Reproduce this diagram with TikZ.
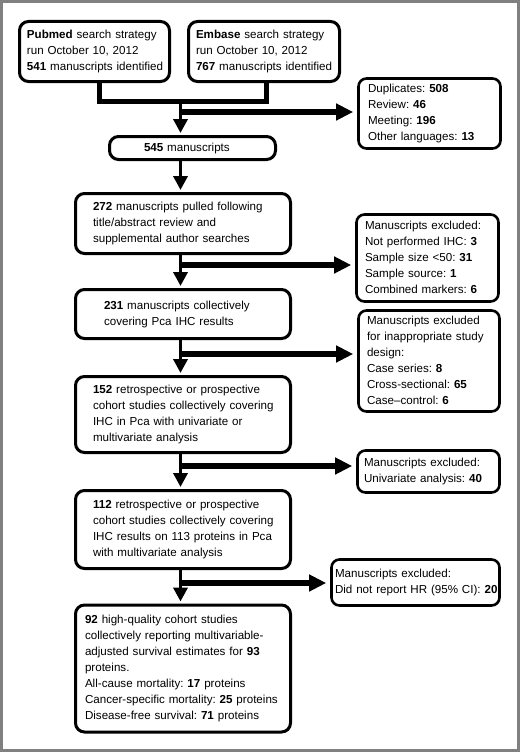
\documentclass[tikz,border=0pt]{standalone}
\usepackage{fontspec}
\setmainfont{Liberation Sans}
\usetikzlibrary{arrows.meta,calc}
\frenchspacing
\newcommand{\lns}[1]{\begin{tabular}{@{}l@{}}#1\end{tabular}}
\tikzset{
  box/.style={draw, line width=3pt, rounded corners=9pt, align=left,
    font=\fontsize{11.6}{16}\selectfont\frenchspacing, inner ysep=0pt},
  exbox/.style={box, line width=2.6pt, rounded corners=8pt},
  merge/.style={draw, line width=5pt},
  varrow/.style={draw, line width=3.5pt, -{Triangle[length=14pt,width=14pt]}, shorten >=2pt},
  sarrow/.style={draw, line width=5.5pt, -{Triangle[length=17pt,width=16pt]}, shorten >=4pt},
}
\begin{document}
\begin{tikzpicture}[x=1pt,y=-1pt]
\useasboundingbox (0,0) rectangle (520,752);
\draw[line width=3pt, color={rgb,255:red,128;green,128;blue,128}] (1.5,1.5) rectangle (518.5,750.5);

% main boxes
\node[box, minimum width=150pt, minimum height=60pt, inner xsep=7.5pt, text width=135pt] (pub) at (94.5,51.5)
  {\lns{\textbf{Pubmed} search strategy\\run October 10, 2012\\\textbf{541} manuscripts identified}};
\node[box, minimum width=151pt, minimum height=60pt, inner xsep=7.5pt, text width=136pt] (emb) at (264,51.5)
  {\lns{\textbf{Embase} search strategy\\run October 10, 2012\\\textbf{767} manuscripts identified}};
\node[exbox, minimum width=142pt, minimum height=70pt, inner xsep=9.5pt, text width=123pt] (ex1) at (429.5,113.5)
  {\lns{Duplicates: \textbf{508}\\Review: \textbf{46}\\Meeting: \textbf{196}\\Other languages: \textbf{13}}};
\node[box, minimum width=166pt, minimum height=23pt, inner xsep=34.5pt, text width=97pt] (n545) at (192.5,148)
  {\lns{\textbf{545} manuscripts}};
\node[box, minimum width=215pt, minimum height=60pt, inner xsep=17.5pt, text width=180pt] (n272) at (183,223.5)
  {\lns{\textbf{272} manuscripts pulled following\\title/abstract review and\\supplemental author searches}};
\node[exbox, minimum width=142pt, minimum height=87pt, inner xsep=8.5pt, text width=125pt] (ex2) at (427.5,258)
  {\lns{Manuscripts excluded:\\Not performed IHC: \textbf{3}\\Sample size <50: \textbf{31}\\Sample source: \textbf{1}\\Combined markers: \textbf{6}}};
\node[box, minimum width=215pt, minimum height=49pt, inner xsep=28.5pt, text width=158pt] (n231) at (183,314)
  {\lns{\textbf{231} manuscripts collectively\\covering Pca IHC results}};
\node[exbox, minimum width=141pt, minimum height=101pt, inner xsep=8.5pt, text width=124pt] (ex3) at (429,361)
  {\lns{Manuscripts excluded\\for inappropriate study\\design:\\Case series: \textbf{8}\\Cross-sectional: \textbf{65}\\Case–control: \textbf{6}}};
\node[box, minimum width=215pt, minimum height=76pt, inner xsep=17.5pt, text width=180pt] (n152) at (183,414.5)
  {\lns{\textbf{152} retrospective or prospective\\cohort studies collectively covering\\IHC in Pca with univariate or\\multivariate analysis}};
\node[exbox, minimum width=142pt, minimum height=42pt, inner xsep=6.5pt, text width=129pt] (ex4) at (428.5,471.5)
  {\lns{Manuscripts excluded:\\Univariate analysis: \textbf{40}}};
\node[box, minimum width=215pt, minimum height=78pt, inner xsep=17.5pt, text width=180pt] (n112) at (183,529.5)
  {\lns{\textbf{112} retrospective or prospective\\cohort studies collectively covering\\IHC results on 113 proteins in Pca\\with multivariate analysis}};
\node[exbox, minimum width=168pt, minimum height=46pt, inner xsep=3.5pt, text width=161pt] (ex5) at (415.5,582.5)
  {\lns{Manuscripts excluded:\\Did not report HR (95\% CI): \textbf{20}}};
\node[box, minimum width=215pt, minimum height=127pt, inner xsep=9.5pt, text width=196pt] (n92) at (183,668.5)
  {\lns{\textbf{92} high-quality cohort studies\\collectively reporting multivariable-\\adjusted survival estimates for \textbf{93}\\proteins.\\All-cause mortality: \textbf{17} proteins\\Cancer-specific mortality: \textbf{25} proteins\\Disease-free survival: \textbf{71} proteins}};

% connectors
\coordinate (j) at (180.5,101);
\draw[merge] ([xshift=5pt]pub.south) |- (j) -| ([xshift=2pt]emb.south);
\draw[varrow] (j) -- (j |- n545.north);
\coordinate (s1) at (180.5,112);
\draw[sarrow] (s1) -- (s1 -| ex1.west);

\draw[varrow] (n545.south -| j) -- (n272.north -| j);

\draw[varrow] (n272.south -| j) -- (n231.north -| j);
\coordinate (s2) at (180.5,265);
\draw[sarrow] (s2) -- (s2 -| ex2.west);

\draw[varrow] (n231.south -| j) -- (n152.north -| j);
\coordinate (s3) at (180.5,354);
\draw[sarrow] (s3) -- (s3 -| ex3.west);

\draw[varrow] (n152.south -| j) -- (n112.north -| j);
\coordinate (s4) at (180.5,466);
\draw[sarrow] (s4) -- (s4 -| ex4.west);

\draw[varrow] (n112.south -| j) -- (n92.north -| j);
\coordinate (s5) at (180.5,583);
\draw[sarrow] (s5) -- (s5 -| ex5.west);
\end{tikzpicture}
\end{document}
